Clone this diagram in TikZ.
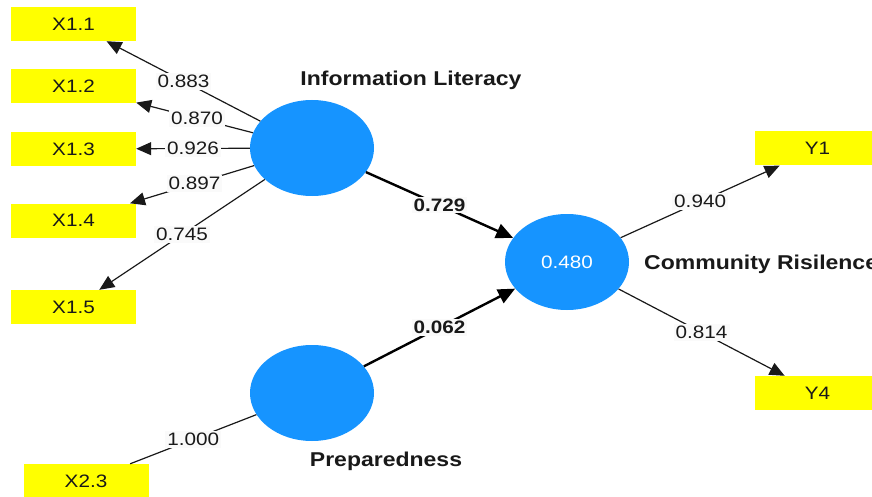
\documentclass[tikz,border=0pt]{standalone}
\usepackage{fontspec}
\setmainfont{Liberation Sans}[FakeStretch=1.15]
\usetikzlibrary{arrows.meta,shapes.geometric}
\definecolor{boxyellow}{RGB}{255,255,0}
\definecolor{lvblue}{RGB}{22,148,255}
\definecolor{lineg}{RGB}{25,25,25}
\definecolor{txt}{RGB}{25,25,25}
\definecolor{lblbg}{RGB}{250,250,250}
\tikzset{
  ind/.style={fill=boxyellow, minimum width=125pt, minimum height=34pt, inner sep=0pt, text=txt, font=\fontsize{18}{20}\selectfont},
  lv/.style={ellipse, fill=lvblue, minimum width=124pt, minimum height=96pt, inner sep=0pt, text=white, font=\fontsize{18}{20}\selectfont},
  lvname/.style={text=txt, font=\fontsize{20}{22}\selectfont\bfseries, inner sep=0pt},
  thinarr/.style={draw=lineg, line width=1.2pt, -{Triangle[length=15pt,width=13pt]}},
  thinline/.style={draw=lineg, line width=1.2pt},
  thickarr/.style={draw=black, line width=2.4pt, -{Triangle[length=17pt,width=15pt]}},
  lbl/.style={fill=lblbg, inner sep=2pt, text=txt, font=\fontsize{18}{20}\selectfont},
  blbl/.style={fill=lblbg, inner sep=2pt, text=txt, font=\fontsize{18}{20}\selectfont\bfseries},
}
\begin{document}
\begin{tikzpicture}[x=1pt,y=-1pt]
\useasboundingbox (0,0) rectangle (872,497);
% indicators
\node[ind] (x11) at (73.5,24) {X1.1};
\node[ind] (x12) at (73.5,86.5) {X1.2};
\node[ind] (x13) at (73.5,149) {X1.3};
\node[ind] (x14) at (73.5,220.5) {X1.4};
\node[ind] (x15) at (73.5,307) {X1.5};
\node[ind] (x23) at (86,481) {X2.3};
\node[ind] (y1) at (817.5,148.5) {Y1};
\node[ind] (y4) at (817.5,393) {Y4};
% latent variables
\node[lv] (il) at (312,148) {};
\node[lv] (cr) at (567,262) {0.480};
\node[lv] (pr) at (312,393) {};
\node[lvname] (ilname) at (411,80) {Information Literacy};
\node[lvname, anchor=west] (crname) at (644,264) {Community Risilence};
\node[lvname] (prname) at (386,461) {Preparedness};
% outer loadings
\draw[thinarr] (il) -- node[lbl] (l1) {0.883} (x11);
\draw[thinarr] (il) -- node[lbl, pos=0.48] (l2) {0.870} (x12);
\draw[thinarr] (il) -- node[lbl] (l3) {0.926} (x13);
\draw[thinarr] (il) -- node[lbl, pos=0.48] (l4) {0.897} (x14);
\draw[thinarr] (il) -- node[lbl] (l5) {0.745} (x15);
\draw[thinline] (x23) -- node[lbl, pos=0.5] (l6) {1.000} (pr);
\draw[thinarr] (cr) -- node[lbl, pos=0.5] (l7) {0.940} (y1);
\draw[thinarr] (cr) -- node[lbl, pos=0.5] (l8) {0.814} (y4);
% structural paths
\draw[thickarr] (il) -- node[blbl] (p1) {0.729} (cr);
\draw[thickarr] (pr) -- node[blbl] (p2) {0.062} (cr);
\end{tikzpicture}
\end{document}
